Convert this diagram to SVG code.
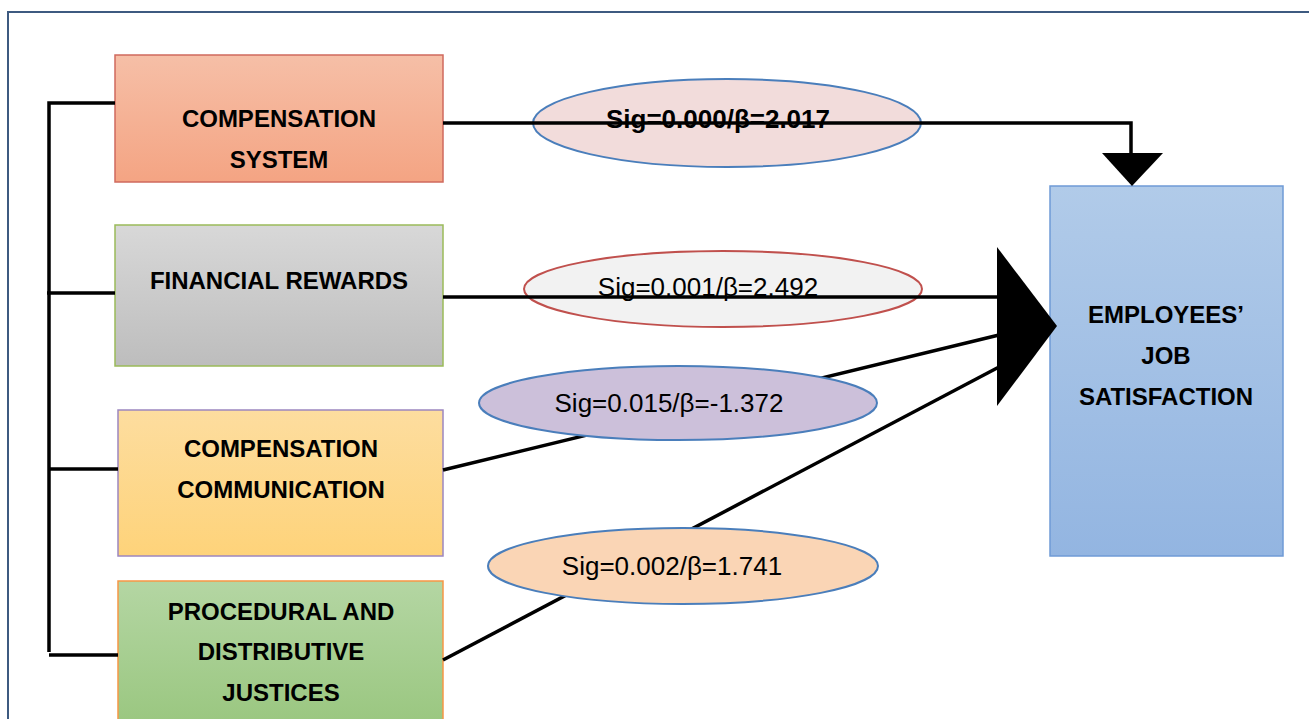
<svg xmlns="http://www.w3.org/2000/svg" width="1309" height="719" viewBox="0 0 1309 719">
<defs>
<linearGradient id="g1" x1="0" y1="0" x2="0" y2="1"><stop offset="0" stop-color="#f6bfa7"/><stop offset="1" stop-color="#f4a483"/></linearGradient>
<linearGradient id="g2" x1="0" y1="0" x2="0" y2="1"><stop offset="0" stop-color="#d8d8d8"/><stop offset="1" stop-color="#bdbdbd"/></linearGradient>
<linearGradient id="g3" x1="0" y1="0" x2="0" y2="1"><stop offset="0" stop-color="#fddd9f"/><stop offset="1" stop-color="#fed37a"/></linearGradient>
<linearGradient id="g4" x1="0" y1="0" x2="0" y2="1"><stop offset="0" stop-color="#b4d6a3"/><stop offset="1" stop-color="#97c57c"/></linearGradient>
<linearGradient id="g5" x1="0" y1="0" x2="0" y2="1"><stop offset="0" stop-color="#b1cbe9"/><stop offset="1" stop-color="#93b5e1"/></linearGradient>
</defs>
<style>
.lbl{font-family:"Liberation Sans",Arial,sans-serif;font-weight:bold;font-size:24px;fill:#000;text-anchor:middle}
.sig{font-family:"Liberation Sans",Arial,sans-serif;font-size:26px;fill:#000;text-anchor:middle}
.b{font-weight:bold}
.ln{fill:none;stroke:#000;stroke-width:3.5}
</style>
<rect x="8" y="12" width="1320" height="740" fill="#fff" stroke="#3d5a80" stroke-width="2"/>

<g id="node-compensation-system">
<rect x="115" y="55" width="328" height="127" fill="url(#g1)" stroke="#cf6a5e" stroke-width="1.5"/>
<text class="lbl" x="279" y="127">COMPENSATION</text>
<text class="lbl" x="279" y="168">SYSTEM</text>
</g>
<g id="node-financial-rewards">
<rect x="115" y="225" width="328" height="141" fill="url(#g2)" stroke="#9bbb59" stroke-width="1.5"/>
<text class="lbl" x="279" y="289">FINANCIAL REWARDS</text>
</g>
<g id="node-compensation-communication">
<rect x="118" y="410" width="325" height="146" fill="url(#g3)" stroke="#9c87c0" stroke-width="1.5"/>
<text class="lbl" x="281" y="457">COMPENSATION</text>
<text class="lbl" x="281" y="498">COMMUNICATION</text>
</g>
<g id="node-procedural-distributive">
<rect x="118" y="581" width="325" height="160" fill="url(#g4)" stroke="#f79646" stroke-width="1.5"/>
<text class="lbl" x="281" y="620">PROCEDURAL AND</text>
<text class="lbl" x="281" y="660">DISTRIBUTIVE</text>
<text class="lbl" x="281" y="701">JUSTICES</text>
</g>
<g id="node-job-satisfaction">
<rect x="1050" y="186" width="233" height="370" fill="url(#g5)" stroke="#6f9bd6" stroke-width="1.5"/>
<text class="lbl" x="1166" y="323">EMPLOYEES’</text>
<text class="lbl" x="1166" y="364">JOB</text>
<text class="lbl" x="1166" y="405">SATISFACTION</text>
</g>

<g id="label-e1">
<ellipse cx="727" cy="123" rx="194" ry="44" fill="#f2dcdb" stroke="#4a7ebb" stroke-width="2"/>
<text class="sig b" x="718" y="128">Sig=0.000/β=2.017</text>
</g>
<g id="label-e2">
<ellipse cx="723" cy="289" rx="199" ry="38" fill="#f2f2f2" stroke="#c0504d" stroke-width="2"/>
<text class="sig" x="708" y="296">Sig=0.001/β=2.492</text>
</g>

<g id="connectors">
<polyline class="ln" points="115,103 49,103 49,652"/>
<line class="ln" x1="47" y1="293" x2="115" y2="293"/>
<line class="ln" x1="49" y1="469" x2="118" y2="469"/>
<line class="ln" x1="49" y1="655" x2="118" y2="655"/>
<polyline class="ln" points="443,123 1131,123 1131,155"/>
<polygon points="1102,153 1163,153 1132,186" fill="#000"/>
<line class="ln" x1="443" y1="297" x2="999" y2="297"/>
<line class="ln" x1="443" y1="470" x2="999" y2="335"/>
<line class="ln" x1="443" y1="660" x2="999" y2="367"/>
<polygon points="997,247 1057,326 997,406" fill="#000"/>
</g>

<g id="label-e3">
<ellipse cx="678" cy="403" rx="199" ry="37" fill="#ccc0da" stroke="#4a7ebb" stroke-width="2"/>
<text class="sig" x="669" y="412">Sig=0.015/β=-1.372</text>
</g>
<g id="label-e4">
<ellipse cx="683" cy="566" rx="195" ry="38" fill="#fad5b5" stroke="#4a7ebb" stroke-width="2"/>
<text class="sig" x="672" y="575">Sig=0.002/β=1.741</text>
</g>
</svg>
